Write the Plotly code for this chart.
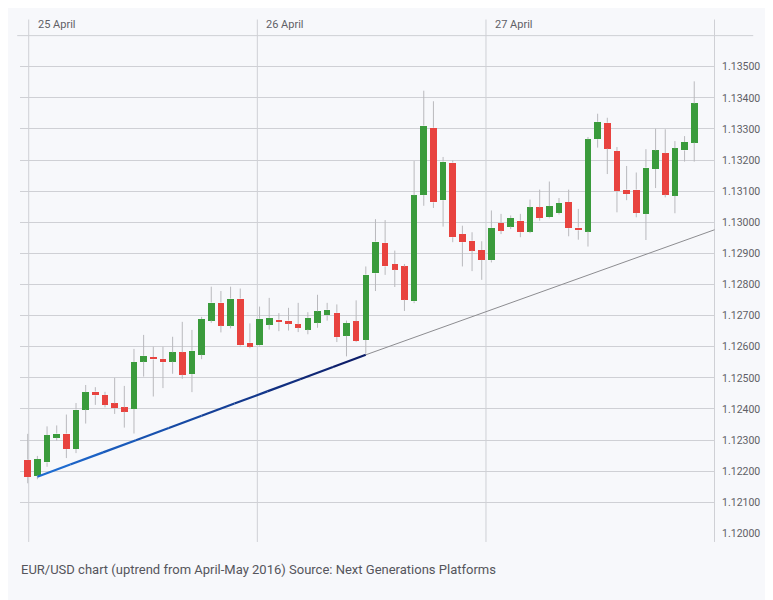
import plotly.graph_objects as go

# hourly EUR/USD candles from 25 to 27 April 2016 (x = candle number)
candle_idx = list(range(70))
opens = [1.12237, 1.12186, 1.12228, 1.12307, 1.12321, 1.12271, 1.12398, 1.12456, 1.12445, 1.12418,
         1.12405, 1.12400, 1.12552, 1.12567, 1.12561, 1.12552, 1.12582, 1.12512, 1.12574, 1.12684,
         1.12742, 1.12668, 1.12755, 1.12613, 1.12604, 1.12671, 1.12687, 1.12684, 1.12672, 1.12655,
         1.12677, 1.12701, 1.12709, 1.12635, 1.12682, 1.12622, 1.12836, 1.12934, 1.12866, 1.12858,
         1.12746, 1.13088, 1.13304, 1.13071, 1.13192, 1.12962, 1.12941, 1.12911, 1.12878, 1.12998,
         1.12986, 1.13005, 1.12970, 1.13048, 1.13016, 1.13030, 1.13065, 1.12983, 1.12970, 1.13267,
         1.13320, 1.13229, 1.13105, 1.13105, 1.13027, 1.13171, 1.13222, 1.13085, 1.13231, 1.13256]
highs = [1.12320, 1.12249, 1.12344, 1.12347, 1.12382, 1.12419, 1.12477, 1.12470, 1.12455, 1.12500,
         1.12474, 1.12593, 1.12638, 1.12600, 1.12600, 1.12632, 1.12680, 1.12654, 1.12696, 1.12793,
         1.12779, 1.12793, 1.12787, 1.12675, 1.12729, 1.12757, 1.12708, 1.12725, 1.12741, 1.12711,
         1.12767, 1.12741, 1.12736, 1.12684, 1.12749, 1.12858, 1.13010, 1.13007, 1.12909, 1.12866,
         1.13197, 1.13423, 1.13389, 1.13210, 1.13199, 1.12989, 1.12968, 1.12939, 1.13038, 1.13027,
         1.13022, 1.13027, 1.13073, 1.13105, 1.13131, 1.13078, 1.13105, 1.13043, 1.13274, 1.13349,
         1.13336, 1.13242, 1.13181, 1.13160, 1.13235, 1.13301, 1.13299, 1.13261, 1.13277, 1.13453]
lows = [1.12161, 1.12174, 1.12214, 1.12298, 1.12242, 1.12258, 1.12353, 1.12413, 1.12405, 1.12384,
        1.12340, 1.12321, 1.12504, 1.12440, 1.12467, 1.12513, 1.12497, 1.12454, 1.12560, 1.12677,
        1.12646, 1.12659, 1.12600, 1.12595, 1.12601, 1.12655, 1.12650, 1.12652, 1.12647, 1.12640,
        1.12661, 1.12684, 1.12615, 1.12569, 1.12615, 1.12578, 1.12779, 1.12831, 1.12792, 1.12715,
        1.12740, 1.13053, 1.13046, 1.12986, 1.12936, 1.12858, 1.12843, 1.12815, 1.12871, 1.12962,
        1.12978, 1.12952, 1.12965, 1.13005, 1.13013, 1.13025, 1.12955, 1.12944, 1.12922, 1.13240,
        1.13155, 1.13032, 1.13071, 1.13016, 1.12943, 1.13110, 1.13080, 1.13029, 1.13195, 1.13195]
closes = [1.12181, 1.12239, 1.12316, 1.12321, 1.12271, 1.12398, 1.12454, 1.12444, 1.12413, 1.12403,
          1.12391, 1.12551, 1.12571, 1.12559, 1.12550, 1.12582, 1.12510, 1.12587, 1.12689, 1.12742,
          1.12668, 1.12755, 1.12604, 1.12600, 1.12690, 1.12693, 1.12679, 1.12674, 1.12661, 1.12693,
          1.12714, 1.12719, 1.12631, 1.12676, 1.12618, 1.12832, 1.12938, 1.12858, 1.12848, 1.12751,
          1.13087, 1.13311, 1.13064, 1.13195, 1.12952, 1.12936, 1.12909, 1.12879, 1.12982, 1.12973,
          1.13014, 1.12968, 1.13048, 1.13014, 1.13052, 1.13062, 1.12981, 1.12974, 1.13267, 1.13323,
          1.13237, 1.13099, 1.13091, 1.13030, 1.13176, 1.13231, 1.13089, 1.13238, 1.13258, 1.13382]

# day separators (in candle units) and their labels
day_pos = [0.1, 23.77, 47.44, 71.1]
day_labels = ["25 April", "26 April", "27 April", ""]

# price axis ticks
price_ticks = [1.120, 1.121, 1.122, 1.123, 1.124, 1.125, 1.126, 1.127,
               1.128, 1.129, 1.130, 1.131, 1.132, 1.133, 1.134, 1.135]
price_top = 1.136

# support line drawn under the lows
trend_x = [1, 35, 71.1]
trend_y = [1.12182, 1.12574, 1.12976]

caption = "EUR/USD chart (uptrend from April-May 2016) Source: Next Generations Platforms"

GREEN = "#3a9b3c"
RED = "#e8433f"
WICK = "#b9b9bd"
GRID = "#cfd0d5"
BG = "#f7f8fb"
FONT = "Roboto"

fig = go.Figure()

# wicks, split so they don't cross the bodies
wx, wy = [], []
for i, o, h, l, c in zip(candle_idx, opens, highs, lows, closes):
    wx += [i, i, None, i, i, None]
    wy += [h, max(o, c), None, min(o, c), l, None]
fig.add_trace(go.Scatter(x=wx, y=wy, mode="lines", line=dict(color=WICK, width=1),
                         hoverinfo="skip"))

# bodies
fig.add_trace(go.Bar(
    x=candle_idx,
    y=[abs(c - o) for o, c in zip(opens, closes)],
    base=[min(o, c) for o, c in zip(opens, closes)],
    marker=dict(color=[GREEN if c >= o else RED for o, c in zip(opens, closes)], line_width=0),
    width=0.68,
    customdata=list(zip(opens, highs, lows, closes)),
    hovertemplate="O %{customdata[0]:.5f}<br>H %{customdata[1]:.5f}<br>"
                  "L %{customdata[2]:.5f}<br>C %{customdata[3]:.5f}<extra></extra>",
))

# trend line: blue-to-navy part under the lows, then a thin grey extension
c0, c1 = (31, 111, 214), (12, 26, 100)
n = 10
for k in range(n):
    t0, t1 = k / n, (k + 1) / n
    col = "rgb({},{},{})".format(*[round(a + (b - a) * (t0 + t1) / 2) for a, b in zip(c0, c1)])
    fig.add_trace(go.Scatter(
        x=[trend_x[0] + (trend_x[1] - trend_x[0]) * t0, trend_x[0] + (trend_x[1] - trend_x[0]) * t1],
        y=[trend_y[0] + (trend_y[1] - trend_y[0]) * t0, trend_y[0] + (trend_y[1] - trend_y[0]) * t1],
        mode="lines", line=dict(color=col, width=2.2), hoverinfo="skip"))
fig.add_trace(go.Scatter(x=trend_x[1:], y=trend_y[1:], mode="lines",
                         line=dict(color="#8c8c90", width=1), hoverinfo="skip"))

# vertical day lines, running a little past the grid
for p in day_pos:
    fig.add_shape(type="line", xref="x", yref="paper", x0=p, x1=p, y0=-0.016, y1=1.031,
                  line=dict(color=GRID, width=1), layer="below")
for p, lab in zip(day_pos, day_labels):
    if lab:
        fig.add_annotation(x=p, y=1, xref="x", yref="paper", text=lab, showarrow=False,
                           xanchor="left", yanchor="middle", xshift=7, yshift=11,
                           font=dict(family=FONT, size=11, color="#5f5f66"))

# top rule (unlabelled top gridline that runs further right)
fig.add_shape(type="line", xref="paper", yref="y", x0=-0.004, x1=1.055, y0=price_top, y1=price_top,
              line=dict(color=GRID, width=1), layer="below")

fig.add_annotation(x=-0.0015, y=-0.072, xref="paper", yref="paper", text=caption, showarrow=False,
                   xanchor="left", yanchor="middle",
                   font=dict(family=FONT, size=13, color="#55555c"))

fig.update_layout(
    width=773, height=600,
    margin=dict(l=12, r=66, t=27, b=74),
    paper_bgcolor=BG, plot_bgcolor=BG,
    showlegend=False,
    bargap=0,
    hovermode="closest",
    xaxis=dict(range=[-0.8, 71.15], showgrid=False, zeroline=False, showticklabels=False,
               showline=False, ticks=""),
    yaxis=dict(side="right", range=[1.11998, 1.13602], tickvals=price_ticks, tickformat=".5f",
               showgrid=True, gridcolor=GRID, gridwidth=1, zeroline=False, showline=False,
               ticks="outside", ticklen=4, tickcolor="rgba(0,0,0,0)",
               tickfont=dict(family=FONT, size=10.5, color="#5f5f66")),
)

fig.write_html("out.html")
